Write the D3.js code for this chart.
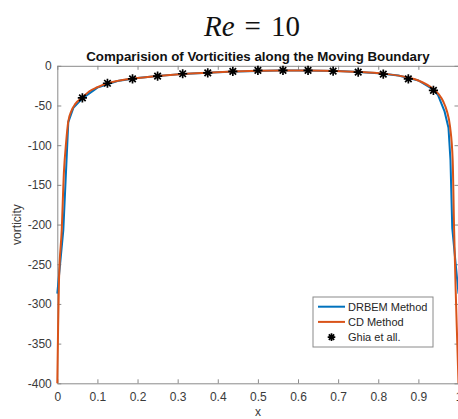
<!DOCTYPE html>
<html>
<head>
<meta charset="utf-8">
<script src="https://cdn.jsdelivr.net/npm/d3@7"></script>
<style>
  html, body { margin: 0; padding: 0; background: #fff; }
  svg { display: block; }
  text { font-family: "Liberation Sans", Arial, Helvetica, sans-serif; }
</style>
</head>
<body>
<svg id="chart" width="458" height="419"></svg>
<script>
// Vorticity along the moving lid, Re = 10

// DRBEM solution (boundary nodes)
const drbemX = [0, 0.015, 0.0274, 0.04, 0.0625, 0.1, 0.15, 0.2, 0.25, 0.3, 0.35, 0.4, 0.45, 0.5,
                0.55, 0.6, 0.65, 0.7, 0.75, 0.8, 0.85, 0.9, 0.9375, 0.949, 0.965, 0.975, 0.98, 0.9845, 1];
const drbemW = [-287, -207, -71, -53, -41, -27.5, -19.2, -15.5, -12.9, -10.8, -9.3, -8.1, -7.1, -6.4,
                -6, -5.9, -6.1, -6.7, -7.7, -9.4, -12.3, -18.5, -30, -37, -57, -78, -119, -205, -287];

// Central-difference solution
const cdX = [0, 0.002, 0.0042, 0.011, 0.0167, 0.0217, 0.0274, 0.035, 0.045, 0.0625, 0.08, 0.1, 0.125,
             0.15, 0.1875, 0.25, 0.3125, 0.375, 0.4375, 0.5, 0.5625, 0.625, 0.6875, 0.75, 0.8125,
             0.875, 0.9, 0.9375, 0.951, 0.962, 0.971, 0.979, 0.9855, 0.989, 0.993, 0.997, 1];
const cdW = [-400, -330, -270, -207, -132, -98, -70, -57, -48, -40, -32, -27, -22,
             -19, -16.2, -12.8, -10.3, -8.7, -7.3, -6.3, -5.9, -5.9, -6.5, -7.7, -9.9,
             -14.8, -18.5, -29.5, -36, -45, -57, -77, -119, -205, -283, -350, -400];

// Ghia et al. benchmark points
const ghiaX = [0.0625, 0.125, 0.1875, 0.25, 0.3125, 0.375, 0.4375, 0.5, 0.5625, 0.625, 0.6875,
               0.75, 0.8125, 0.875, 0.9375];
const ghiaW = [-40.4, -22, -16.4, -13, -10, -8.8, -7.1, -5.8, -5.8, -5.8, -6.7, -8, -10.5, -16.4, -31];

const xTicks = [0, 0.1, 0.2, 0.3, 0.4, 0.5, 0.6, 0.7, 0.8, 0.9, 1];
const yTicks = [0, -50, -100, -150, -200, -250, -300, -350, -400];

const seriesNames = ["DRBEM Method", "CD Method", "Ghia et all."];
const colors = { drbem: "#0072BD", cd: "#D95319", ghia: "#000000" };

const svg = d3.select("#chart");
const W = 458, H = 419;
const m = { left: 57.3, right: 458.5, top: 65.8, bottom: 383.3 };

svg.append("rect").attr("width", W).attr("height", H).attr("fill", "#fff");

const x = d3.scaleLinear().domain([0, 1]).range([m.left, m.right]);
const y = d3.scaleLinear().domain([-400, 0]).range([m.bottom, m.top]);

const axisColor = "#8a8a8a";
const labelColor = "#3a3a3a";

// Axes with inward ticks on all four sides
function styleAxis(g) {
  g.select(".domain").attr("stroke", axisColor).attr("stroke-width", 1);
  g.selectAll(".tick line").attr("stroke", axisColor).attr("stroke-width", 1);
  g.selectAll(".tick text").attr("fill", labelColor)
    .style("font-family", '"Liberation Sans", Arial, sans-serif').style("font-size", "12px");
}

const fmtX = d => (d === 0 ? "0" : d === 1 ? "1" : d3.format(".1f")(d));
const fmtY = d => String(d);

svg.append("g").attr("transform", `translate(0,${m.bottom})`)
  .call(d3.axisBottom(x).tickValues(xTicks).tickFormat(fmtX).tickSize(-4).tickPadding(9.5).tickSizeOuter(0))
  .call(styleAxis);
svg.append("g").attr("transform", `translate(0,${m.top})`)
  .call(d3.axisTop(x).tickValues(xTicks).tickFormat("").tickSize(-4).tickSizeOuter(0))
  .call(styleAxis);
svg.append("g").attr("transform", `translate(${m.left},0)`)
  .call(d3.axisLeft(y).tickValues(yTicks).tickFormat(fmtY).tickSize(-4).tickPadding(5.5).tickSizeOuter(0))
  .call(styleAxis);
svg.append("g").attr("transform", `translate(${m.right},0)`)
  .call(d3.axisRight(y).tickValues(yTicks).tickFormat("").tickSize(-4).tickSizeOuter(0))
  .call(styleAxis);

// Curves
const plot = svg.append("g");
const drbemLine = d3.line().x((d, i) => x(drbemX[i])).y(d => y(d)).curve(d3.curveLinear);
const cdLine = d3.line().x((d, i) => x(cdX[i])).y(d => y(d)).curve(d3.curveMonotoneX);

plot.append("path").datum(drbemW).attr("d", drbemLine)
  .attr("fill", "none").attr("stroke", colors.drbem).attr("stroke-width", 2).attr("stroke-linejoin", "round");
plot.append("path").datum(cdW).attr("d", cdLine)
  .attr("fill", "none").attr("stroke", colors.cd).attr("stroke-width", 2).attr("stroke-linejoin", "round");

// Asterisk marker: plus and cross combined
function starPath(r) {
  const d = r * Math.SQRT1_2;
  return `M${-r},0L${r},0M0,${-r}L0,${r}M${-d},${-d}L${d},${d}M${-d},${d}L${d},${-d}`;
}
plot.selectAll(".ghia").data(ghiaW).join("path")
  .attr("class", "ghia")
  .attr("transform", (d, i) => `translate(${x(ghiaX[i])},${y(d)})`)
  .attr("d", starPath(4.6))
  .attr("fill", "none").attr("stroke", colors.ghia).attr("stroke-width", 1.7);

// Legend
const lg = svg.append("g").attr("transform", "translate(313,297)");
lg.append("rect").attr("width", 120).attr("height", 50)
  .attr("fill", "#fff").attr("stroke", "#8a8a8a").attr("stroke-width", 1);
const rows = [
  { name: seriesNames[0], type: "line", color: colors.drbem },
  { name: seriesNames[1], type: "line", color: colors.cd },
  { name: seriesNames[2], type: "marker", color: colors.ghia }
];
rows.forEach((r, i) => {
  const cy = 9.7 + i * 15.2;
  if (r.type === "line") {
    lg.append("line").attr("x1", 5).attr("x2", 32).attr("y1", cy).attr("y2", cy)
      .attr("stroke", r.color).attr("stroke-width", 2);
  } else {
    lg.append("path").attr("transform", `translate(18.5,${cy})`).attr("d", starPath(3.8))
      .attr("stroke", r.color).attr("stroke-width", 1.7).attr("fill", "none");
  }
  lg.append("text").attr("x", 35).attr("y", cy).attr("dy", "0.35em")
    .attr("fill", "#262626").style("font-size", "11px").text(r.name);
});

// Titles and axis labels
svg.append("text").attr("x", (m.left + m.right) / 2).attr("y", 60.5)
  .attr("text-anchor", "middle").attr("fill", "#111")
  .style("font-weight", "bold").style("font-size", "13.3px")
  .text("Comparision of Vorticities along the Moving Boundary");

const re = svg.append("text").attr("x", 252).attr("y", 36)
  .attr("text-anchor", "middle").attr("fill", "#111")
  .style("font-family", '"Liberation Serif", "DejaVu Serif", serif').style("font-size", "29px");
re.append("tspan").style("font-style", "italic").text("Re");
re.append("tspan").attr("dx", 10).text("=");
re.append("tspan").attr("dx", 10).text("10");

svg.append("text").attr("x", (m.left + m.right) / 2).attr("y", 416)
  .attr("text-anchor", "middle").attr("fill", labelColor).style("font-size", "12px").text("x");

svg.append("text").attr("transform", `translate(21,${(m.top + m.bottom) / 2}) rotate(-90)`)
  .attr("text-anchor", "middle").attr("fill", labelColor).style("font-size", "12px").text("vorticity");
</script>
</body>
</html>
